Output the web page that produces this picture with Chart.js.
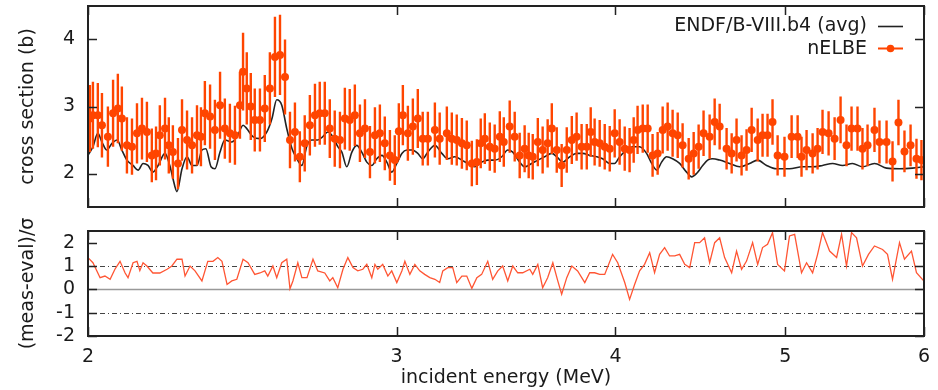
<!DOCTYPE html>
<html>
<head>
<meta charset="utf-8">
<script src="https://cdn.jsdelivr.net/npm/chart.js@4.4.0/dist/chart.umd.min.js"></script>
<style>
  body { margin: 0; background: #fff; }
  #wrap { position: relative; width: 938px; height: 390px; }
  canvas { position: absolute; left: 0; }
  #top { top: 0; }
  #bot { top: 215px; }
</style>
</head>
<body>
<div id="wrap">
  <canvas id="top" width="938" height="215"></canvas>
  <canvas id="bot" width="938" height="175"></canvas>
</div>
<script>
// nELBE measurement (MeV, barn)
const energy = [2.005,2.013,2.026,2.037,2.053,2.067,2.080,2.091,2.105,2.119,2.133,2.147,2.161,2.175,2.187,2.198,2.213,2.224,2.236,2.251,
  2.263,2.278,2.293,2.308,2.320,2.332,2.348,2.363,2.379,2.394,2.410,2.426,2.442,2.452,2.464,2.477,2.490,2.507,2.523,2.540,
  2.557,2.574,2.591,2.608,2.625,2.642,2.659,2.677,2.695,2.712,2.730,2.748,2.766,2.785,2.803,2.821,2.840,2.859,2.878,2.897,
  2.916,2.935,2.954,2.974,2.993,3.009,3.025,3.045,3.065,3.085,3.105,3.126,3.155,3.175,3.205,3.226,3.247,3.269,3.290,3.312,
  3.334,3.351,3.369,3.391,3.413,3.436,3.454,3.481,3.504,3.527,3.550,3.569,3.588,3.612,3.635,3.659,3.679,3.703,3.727,3.752,
  3.777,3.801,3.826,3.852,3.872,3.892,3.918,3.944,3.970,3.996,4.022,4.049,4.075,4.097,4.118,4.146,4.173,4.200,4.228,4.256,
  4.284,4.312,4.341,4.369,4.404,4.433,4.462,4.491,4.527,4.557,4.587,4.629,4.660,4.690,4.721,4.752,4.784,4.822,4.853,4.885,
  4.917,4.950,4.995,5.042,5.082,5.108,5.142,5.183,5.217,5.251,5.293,5.335,5.377,5.419,5.455,5.498,5.534,5.571,5.622,5.659,
  5.712,5.757,5.802,5.848,5.895,5.941,5.980];
const sigma = [2.82,2.87,2.87,2.72,2.55,2.90,2.97,2.82,2.42,2.40,2.60,2.67,2.62,2.27,2.30,2.57,2.67,2.42,2.32,2.15,
  2.65,2.50,2.42,2.57,2.55,2.90,2.85,2.65,3.02,2.67,2.60,2.57,3.02,3.52,3.27,3.00,2.80,2.80,2.97,3.27,
  3.74,3.77,3.44,2.50,2.62,2.25,2.45,2.72,2.87,2.90,2.90,2.67,2.52,2.50,2.82,2.80,2.87,2.60,2.67,2.32,
  2.57,2.60,2.45,2.27,2.20,2.63,2.87,2.60,2.70,2.82,2.52,2.52,2.65,2.52,2.60,2.52,2.50,2.45,2.42,2.15,
  2.17,2.45,2.52,2.40,2.37,2.55,2.47,2.70,2.55,2.27,2.37,2.27,2.25,2.47,2.35,2.45,2.67,2.35,2.12,2.35,
  2.50,2.55,2.40,2.40,2.62,2.47,2.45,2.40,2.37,2.60,2.47,2.37,2.35,2.50,2.65,2.67,2.67,2.27,2.30,2.65,
  2.70,2.60,2.57,2.42,2.22,2.30,2.40,2.60,2.55,2.77,2.70,2.37,2.30,2.50,2.27,2.35,2.65,2.50,2.57,2.57,
  2.77,2.27,2.25,2.55,2.55,2.25,2.35,2.30,2.37,2.62,2.60,2.52,2.80,2.42,2.67,2.67,2.37,2.42,2.65,2.47,
  2.47,2.18,2.76,2.33,2.42,2.22,2.20];
const sigmaErr = [.50,.50,.48,.48,.45,.50,.52,.48,.42,.42,.45,.46,.45,.40,.40,.45,.46,.42,.40,.38,
  .46,.44,.42,.45,.44,.48,.48,.45,.50,.45,.44,.44,.50,.58,.54,.50,.47,.47,.50,.54,
  .60,.60,.56,.42,.44,.38,.42,.45,.47,.47,.47,.44,.42,.42,.46,.46,.46,.43,.44,.39,
  .42,.43,.40,.38,.37,.42,.45,.41,.42,.44,.40,.40,.41,.39,.40,.39,.38,.38,.37,.34,
  .34,.37,.38,.36,.36,.38,.37,.39,.37,.34,.35,.34,.34,.36,.35,.36,.38,.34,.32,.34,
  .36,.36,.34,.34,.37,.35,.35,.34,.34,.36,.34,.33,.33,.34,.36,.36,.36,.32,.32,.35,
  .36,.35,.34,.33,.31,.32,.33,.34,.33,.35,.34,.31,.30,.32,.30,.31,.33,.32,.32,.32,
  .34,.30,.30,.32,.32,.30,.30,.30,.31,.33,.33,.32,.35,.31,.33,.33,.31,.31,.33,.32,
  .32,.30,.34,.31,.31,.30,.30];

// ENDF/B-VIII.b4 averaged evaluation
const endfEnergy = [2.000,2.013,2.026,2.037,2.050,2.064,2.078,2.091,2.105,2.122,2.136,2.150,2.164,2.178,2.193,2.213,2.227,2.236,2.248,2.263,
  2.278,2.293,2.308,2.323,2.335,2.351,2.363,2.379,2.394,2.416,2.435,2.452,2.464,2.484,2.507,2.530,2.547,2.563,2.580,2.597,
  2.615,2.632,2.649,2.667,2.684,2.705,2.723,2.741,2.759,2.777,2.792,2.810,2.829,2.847,2.866,2.885,2.904,2.923,2.943,2.962,
  2.981,3.001,3.021,3.041,3.061,3.085,3.105,3.126,3.155,3.184,3.209,3.239,3.269,3.294,3.325,3.355,3.382,3.413,3.445,3.472,
  3.495,3.527,3.550,3.583,3.612,3.645,3.679,3.703,3.732,3.767,3.801,3.832,3.867,3.903,3.933,3.970,3.996,4.022,4.059,4.091,
  4.129,4.167,4.195,4.223,4.250,4.278,4.312,4.352,4.392,4.421,4.450,4.486,4.515,4.545,4.587,4.647,4.709,4.771,4.822,4.879,
  4.943,5.028,5.115,5.183,5.251,5.321,5.391,5.462,5.534,5.622,5.712,5.810,5.910,6.000];
const endfSigma = [2.27,2.40,2.60,2.47,2.35,2.45,2.50,2.35,2.20,2.12,2.05,2.15,2.12,2.02,2.12,2.30,2.12,1.93,1.73,2.07,
  2.25,2.12,2.12,2.35,2.37,2.10,2.07,2.32,2.50,2.47,2.57,2.72,2.67,2.55,2.52,2.62,2.82,3.10,3.02,2.67,
  2.37,2.22,2.12,2.42,2.50,2.50,2.55,2.62,2.55,2.40,2.32,2.10,2.32,2.42,2.32,2.17,2.12,2.22,2.27,2.17,
  2.02,2.15,2.30,2.35,2.35,2.30,2.22,2.32,2.42,2.30,2.22,2.25,2.20,2.15,2.10,2.17,2.20,2.20,2.25,2.35,
  2.32,2.17,2.10,2.15,2.20,2.25,2.30,2.25,2.17,2.25,2.30,2.30,2.27,2.25,2.22,2.15,2.15,2.25,2.35,2.40,
  2.40,2.30,2.15,2.05,2.17,2.25,2.22,2.15,2.02,1.95,2.00,2.12,2.20,2.22,2.20,2.15,2.10,2.15,2.20,2.12,
  2.07,2.07,2.10,2.10,2.12,2.15,2.12,2.15,2.10,2.15,2.08,2.07,2.08,2.10];

// (meas-eval)/sigma
const resEnergy = [2.000,2.013,2.032,2.045,2.059,2.072,2.086,2.100,2.108,2.122,2.133,2.141,2.150,2.161,2.178,2.198,2.219,2.233,2.248,2.263,
  2.272,2.287,2.302,2.323,2.341,2.357,2.372,2.385,2.401,2.416,2.432,2.452,2.468,2.490,2.507,2.523,2.533,2.550,2.563,2.580,
  2.597,2.608,2.618,2.635,2.649,2.667,2.688,2.705,2.730,2.748,2.759,2.777,2.796,2.814,2.833,2.851,2.870,2.885,2.904,2.916,
  2.927,2.946,2.966,2.981,3.001,3.021,3.033,3.053,3.073,3.093,3.113,3.134,3.155,3.175,3.188,3.209,3.230,3.247,3.269,3.290,
  3.312,3.334,3.355,3.382,3.404,3.427,3.449,3.472,3.495,3.518,3.541,3.574,3.588,3.612,3.635,3.659,3.684,3.708,3.727,3.752,
  3.777,3.806,3.842,3.867,3.892,3.918,3.944,3.985,4.012,4.049,4.075,4.102,4.129,4.156,4.184,4.211,4.239,4.267,4.295,4.324,
  4.352,4.381,4.410,4.439,4.468,4.497,4.527,4.557,4.587,4.617,4.660,4.690,4.721,4.752,4.790,4.822,4.853,4.885,4.917,4.950,
  4.995,5.028,5.062,5.108,5.142,5.183,5.217,5.251,5.300,5.349,5.384,5.419,5.455,5.491,5.534,5.578,5.622,5.682,5.719,5.757,
  5.810,5.848,5.902,5.941,5.998];
const residual = [1.36,1.14,0.50,0.57,0.43,0.86,1.20,0.70,0.50,1.14,1.20,0.80,1.14,1.00,0.70,0.70,0.86,1.00,1.29,1.29,
  0.57,1.00,0.79,0.36,1.20,1.20,1.36,1.20,0.21,0.36,0.43,1.29,1.14,0.64,0.70,0.79,0.57,1.00,0.50,1.14,
  1.29,0.03,0.36,1.14,0.50,0.50,1.29,0.79,0.70,0.36,0.50,0.07,0.86,1.36,0.93,0.79,0.86,1.07,0.50,1.07,
  0.86,1.07,0.57,0.79,0.29,0.79,1.20,0.64,1.07,0.79,0.64,0.50,0.43,0.29,0.79,0.93,0.93,0.29,0.57,0.57,
  0.04,0.50,0.64,1.20,0.43,0.79,1.00,0.36,1.00,0.71,0.71,0.86,0.64,1.07,0.07,0.50,1.14,0.36,-0.21,0.50,
  1.00,0.79,0.29,0.71,0.71,0.64,0.64,1.50,1.14,0.29,-0.43,0.21,0.79,1.07,1.57,0.71,1.50,1.79,1.43,1.43,
  1.50,1.07,0.93,2.00,2.00,2.21,1.14,2.00,2.21,1.36,0.71,1.64,0.86,1.21,2.00,1.07,1.79,1.93,2.43,1.07,
  0.79,2.29,2.36,0.71,1.14,0.71,1.50,2.43,1.64,1.36,2.36,1.00,2.43,2.21,1.00,1.50,1.86,1.71,1.50,0.43,
  2.00,1.29,1.64,0.71,0.36];

const xTickVals = [2, 3, 4, 5, 6];
const topYTicks = [2, 3, 4];
const botYTicks = [-2, -1, 0, 1, 2];
const refLineVals = [-1, 1];

const ORANGE = '#ff4500';
const RESID = '#ff5533';
const INK = '#1a1a1a';
const FONT = 'DejaVu Sans';

Chart.defaults.font.family = FONT;
Chart.defaults.font.size = 19;
Chart.defaults.color = INK;

// gnuplot-like box with inward ticks on all four sides
const framePlugin = {
  id: 'frame',
  afterDraw(chart) {
    const { ctx, chartArea: a, scales: { x, y } } = chart;
    const yTicks = chart.canvas.id === 'top' ? topYTicks : botYTicks;
    ctx.save();
    ctx.strokeStyle = '#222';
    ctx.lineWidth = 1.5;
    ctx.beginPath();
    xTickVals.forEach(v => {
      const p = Math.round(x.getPixelForValue(v)) + 0.5;
      ctx.moveTo(p, a.bottom); ctx.lineTo(p, a.bottom - 9);
      ctx.moveTo(p, a.top); ctx.lineTo(p, a.top + 9);
    });
    yTicks.forEach(v => {
      const p = Math.round(y.getPixelForValue(v)) + 0.5;
      ctx.moveTo(a.left, p); ctx.lineTo(a.left + 9, p);
      ctx.moveTo(a.right, p); ctx.lineTo(a.right - 9, p);
    });
    ctx.stroke();
    ctx.lineWidth = 2;
    ctx.strokeRect(a.left, a.top, a.right - a.left, a.bottom - a.top);
    ctx.restore();
  }
};

const errorBarPlugin = {
  id: 'errorBars',
  afterDatasetsDraw(chart) {
    const { ctx, chartArea: a, scales: { x, y } } = chart;
    ctx.save();
    ctx.beginPath();
    ctx.rect(a.left, a.top, a.right - a.left, a.bottom - a.top);
    ctx.clip();
    ctx.strokeStyle = ORANGE;
    ctx.lineWidth = 2.4;
    ctx.beginPath();
    energy.forEach((e, i) => {
      const p = x.getPixelForValue(e);
      ctx.moveTo(p, y.getPixelForValue(sigma[i] - sigmaErr[i]));
      ctx.lineTo(p, y.getPixelForValue(sigma[i] + sigmaErr[i]));
    });
    ctx.stroke();
    ctx.restore();
  }
};

const legendPlugin = {
  id: 'gpLegend',
  afterDraw(chart) {
    const { ctx } = chart;
    const ds = chart.data.datasets;
    ctx.save();
    ctx.font = '19px ' + FONT;
    ctx.fillStyle = INK;
    ctx.textAlign = 'right';
    ctx.textBaseline = 'middle';
    ctx.fillText(ds[1].label, 867, 26);
    ctx.fillText(ds[0].label, 867, 49);
    ctx.lineWidth = 1.6;
    ctx.strokeStyle = '#222';
    ctx.beginPath(); ctx.moveTo(878, 26.5); ctx.lineTo(903, 26.5); ctx.stroke();
    ctx.strokeStyle = ORANGE;
    ctx.lineWidth = 2;
    ctx.beginPath(); ctx.moveTo(878, 48.5); ctx.lineTo(903, 48.5); ctx.stroke();
    ctx.fillStyle = ORANGE;
    ctx.beginPath(); ctx.arc(890.5, 48.5, 3.8, 0, Math.PI * 2); ctx.fill();
    ctx.restore();
  }
};

const refLinePlugin = {
  id: 'refLines',
  beforeDatasetsDraw(chart) {
    const { ctx, chartArea: a, scales: { y } } = chart;
    ctx.save();
    const z = Math.round(y.getPixelForValue(0)) + 0.5;
    ctx.strokeStyle = '#999';
    ctx.lineWidth = 1.5;
    ctx.beginPath(); ctx.moveTo(a.left, z); ctx.lineTo(a.right, z); ctx.stroke();
    ctx.strokeStyle = '#444';
    ctx.lineWidth = 1;
    ctx.setLineDash([5, 3, 1, 3]);
    refLineVals.forEach(v => {
      const p = Math.round(y.getPixelForValue(v)) + 0.5;
      ctx.beginPath(); ctx.moveTo(a.left, p); ctx.lineTo(a.right, p); ctx.stroke();
    });
    ctx.restore();
  }
};

function xScale(showLabels) {
  return {
    type: 'logarithmic',
    min: 2,
    max: 6,
    display: showLabels,
    afterBuildTicks: s => { s.ticks = xTickVals.map(v => ({ value: v })); },
    afterFit: s => {
      if (showLabels) s.height = 54;
      s.paddingLeft = 0; s.paddingRight = 0;
    },
    grid: { display: false, drawTicks: false },
    border: { display: false },
    ticks: { autoSkip: false, maxRotation: 0, padding: 10, callback: v => String(v) },
    title: { display: showLabels, text: 'incident energy (MeV)', padding: { top: 0, bottom: 1 } }
  };
}

function yScale(min, max, tickVals, titleText) {
  return {
    min: min,
    max: max,
    afterBuildTicks: s => { s.ticks = tickVals.map(v => ({ value: v })); },
    afterFit: s => {
      s.width = 88;
      s.paddingTop = 0; s.paddingBottom = 0;
    },
    grid: { display: false, drawTicks: false },
    border: { display: false },
    ticks: { padding: 13, callback: v => String(v) },
    title: { display: true, text: titleText, padding: { top: 17, bottom: 0 } }
  };
}

new Chart(document.getElementById('top'), {
  type: 'line',
  data: {
    datasets: [
      {
        label: 'nELBE',
        data: energy.map((e, i) => ({ x: e, y: sigma[i] })),
        showLine: false,
        pointRadius: 4,
        pointBackgroundColor: ORANGE,
        pointBorderWidth: 0,
        borderColor: ORANGE,
        order: 0
      },
      {
        label: 'ENDF/B-VIII.b4 (avg)',
        data: endfEnergy.map((e, i) => ({ x: e, y: endfSigma[i] })),
        borderColor: '#222',
        borderWidth: 1.6,
        pointRadius: 0,
        cubicInterpolationMode: 'monotone',
        order: 1
      }
    ]
  },
  options: {
    responsive: false,
    animation: false,
    layout: { padding: { top: 6, right: 14, bottom: 8, left: 0 } },
    plugins: { legend: { display: false }, tooltip: { enabled: false } },
    scales: {
      x: xScale(false),
      y: yScale(1.5, 4.5, topYTicks, 'cross section (b)')
    }
  },
  plugins: [errorBarPlugin, framePlugin, legendPlugin]
});

new Chart(document.getElementById('bot'), {
  type: 'line',
  data: {
    datasets: [
      {
        label: '(meas-eval)/σ',
        data: resEnergy.map((e, i) => ({ x: e, y: residual[i] })),
        borderColor: RESID,
        borderWidth: 1.3,
        pointRadius: 0,
        tension: 0
      }
    ]
  },
  options: {
    responsive: false,
    animation: false,
    layout: { padding: { top: 16, right: 14, bottom: 0, left: 0 } },
    plugins: { legend: { display: false }, tooltip: { enabled: false } },
    scales: {
      x: xScale(true),
      y: yScale(-2, 2.5, botYTicks, '(meas-eval)/σ')
    }
  },
  plugins: [refLinePlugin, framePlugin]
});
</script>
</body>
</html>
